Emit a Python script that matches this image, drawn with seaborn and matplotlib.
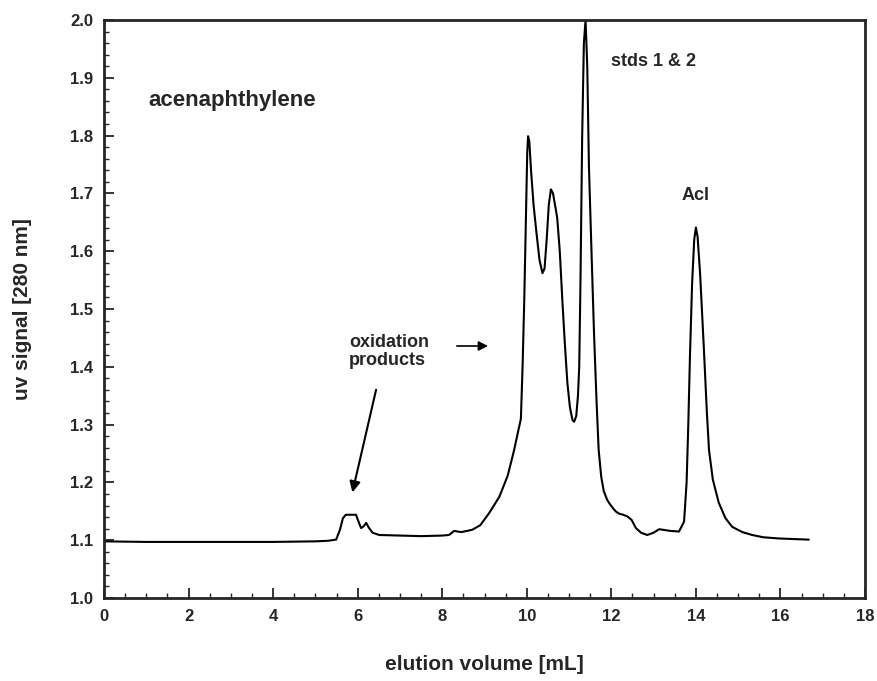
import matplotlib
matplotlib.use("Agg")
import matplotlib.pyplot as plt
from matplotlib.ticker import MultipleLocator, FormatStrFormatter
import seaborn as sns
import pandas as pd

# elution volume [mL] and uv signal
elution_ml = [0.0, 1.0, 2.0, 3.0, 4.0, 5.0, 5.3, 5.49, 5.58, 5.65, 5.72, 5.96, 6.02, 6.08,
              6.14, 6.20, 6.26, 6.35, 6.51, 7.0, 7.5, 8.0, 8.16, 8.28, 8.45, 8.71, 8.90,
              9.11, 9.35, 9.55, 9.70, 9.80, 9.86, 9.90, 9.94, 9.98, 10.01, 10.03, 10.06,
              10.10, 10.16, 10.23, 10.30, 10.37, 10.42, 10.47, 10.52, 10.57, 10.62, 10.68,
              10.72, 10.78, 10.84, 10.90, 10.96, 11.02, 11.08, 11.12, 11.17, 11.21, 11.24,
              11.27, 11.31, 11.35, 11.39, 11.43, 11.47, 11.53, 11.59, 11.65, 11.70, 11.76,
              11.82, 11.90, 11.96, 12.02, 12.10, 12.18, 12.28, 12.38, 12.48, 12.58, 12.70,
              12.85, 13.00, 13.13, 13.40, 13.60, 13.72, 13.78, 13.82, 13.86, 13.91, 13.96,
              14.00, 14.04, 14.10, 14.19, 14.26, 14.31, 14.40, 14.54, 14.70, 14.86, 15.10,
              15.33, 15.60, 15.96, 16.30, 16.67]
uv_signal = [1.098, 1.097, 1.097, 1.097, 1.097, 1.098, 1.099, 1.101, 1.118, 1.138, 1.144,
             1.144, 1.132, 1.121, 1.124, 1.130, 1.122, 1.113, 1.109, 1.108, 1.107, 1.108,
             1.109, 1.116, 1.114, 1.118, 1.126, 1.147, 1.175, 1.212, 1.256, 1.290, 1.310,
             1.400, 1.516, 1.660, 1.770, 1.799, 1.790, 1.740, 1.680, 1.631, 1.585, 1.562,
             1.570, 1.620, 1.680, 1.707, 1.700, 1.675, 1.657, 1.600, 1.516, 1.440, 1.372,
             1.330, 1.308, 1.305, 1.315, 1.350, 1.400, 1.550, 1.800, 1.960, 2.000, 1.920,
             1.746, 1.600, 1.458, 1.340, 1.256, 1.210, 1.185, 1.170, 1.163, 1.157, 1.150,
             1.146, 1.144, 1.141, 1.135, 1.121, 1.113, 1.109, 1.113, 1.119, 1.116, 1.115,
             1.132, 1.200, 1.300, 1.420, 1.544, 1.620, 1.641, 1.625, 1.560, 1.429, 1.320,
             1.256, 1.205, 1.165, 1.138, 1.123, 1.114, 1.109, 1.105, 1.103, 1.102, 1.101]

df = pd.DataFrame({"elution": elution_ml, "uv": uv_signal})

sns.set_style("ticks")
plt.rcParams["font.family"] = ["Liberation Sans", "DejaVu Sans"]
plt.rcParams["font.weight"] = "bold"

fig = plt.figure(figsize=(8.78, 6.81), dpi=100)
ax = fig.add_axes([0.1185, 0.1219, 0.8667, 0.8487])

sns.lineplot(data=df, x="elution", y="uv", ax=ax, color="black", linewidth=1.5,
             sort=False, estimator=None)

ax.set_xlim(0, 18)
ax.set_ylim(1.0, 2.0)
ax.xaxis.set_major_locator(MultipleLocator(2))
ax.xaxis.set_minor_locator(MultipleLocator(0.5))
ax.yaxis.set_major_locator(MultipleLocator(0.1))
ax.yaxis.set_minor_locator(MultipleLocator(0.02))
ax.yaxis.set_major_formatter(FormatStrFormatter("%.1f"))
ax.tick_params(which="major", direction="in", length=7, width=1.3, labelsize=12, pad=8)
ax.tick_params(which="minor", direction="in", length=3.5, width=1.0)
for lab in ax.get_xticklabels() + ax.get_yticklabels():
    lab.set_fontweight("bold")
for s in ax.spines.values():
    s.set_linewidth(2.0)
    s.set_visible(True)

ax.set_xlabel("elution volume [mL]", fontsize=15, fontweight="bold", labelpad=22)
ax.set_ylabel("uv signal [280 nm]", fontsize=15, fontweight="bold", labelpad=27)

ax.text(1.05, 1.860, "acenaphthylene", fontsize=16, fontweight="bold", va="center", ha="left")
ax.text(12.0, 1.928, "stds 1 & 2", fontsize=13, fontweight="bold", va="center", ha="left")
ax.text(14.0, 1.697, "Acl", fontsize=13, fontweight="bold", va="center", ha="center")
ax.text(5.8, 1.427, "oxidation\nproducts", fontsize=13, fontweight="bold", va="center",
        ha="left", linespacing=1.1)

ax.annotate("", xy=(9.15, 1.436), xytext=(8.28, 1.436),
            arrowprops=dict(arrowstyle="-|>", color="black", lw=1.2, mutation_scale=14))
ax.annotate("", xy=(5.86, 1.178), xytext=(6.45, 1.365),
            arrowprops=dict(arrowstyle="-|>", color="black", lw=1.5, mutation_scale=16))

fig.savefig("out.png", dpi=100)
